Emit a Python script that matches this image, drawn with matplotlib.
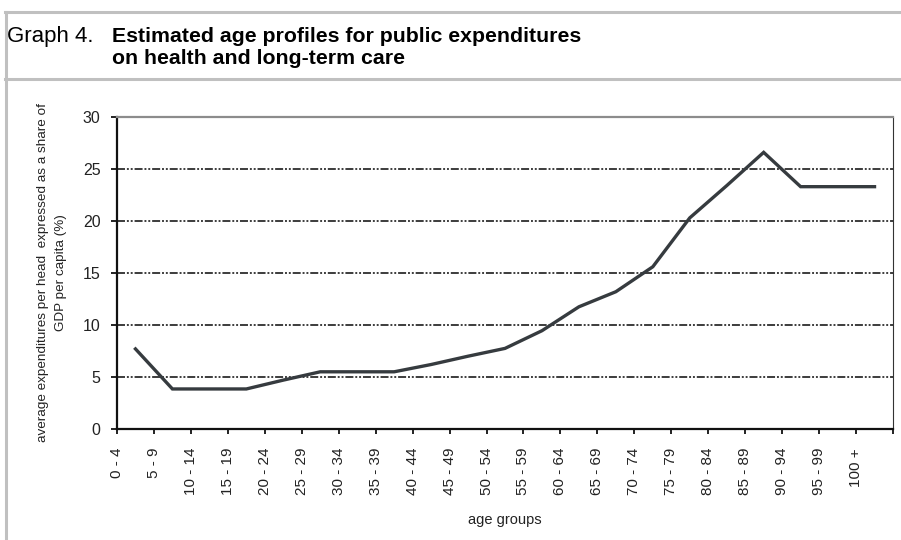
import numpy as np
import matplotlib
matplotlib.use('Agg')
import matplotlib.pyplot as plt
from matplotlib.lines import Line2D

plt.rcParams['font.family'] = ['Liberation Sans', 'DejaVu Sans']

# Step 1: data
age_groups = ['0 - 4', '5 - 9', '10 - 14', '15 - 19', '20 - 24', '25 - 29', '30 - 34',
              '35 - 39', '40 - 44', '45 - 49', '50 - 54', '55 - 59', '60 - 64', '65 - 69',
              '70 - 74', '75 - 79', '80 - 84', '85 - 89', '90 - 94', '95 - 99', '100 +']
expenditure_share = [7.7, 3.85, 3.85, 3.85, 4.7, 5.5, 5.5, 5.5, 6.2, 7.0, 7.75,
                     9.45, 11.75, 13.2, 15.6, 20.3, 23.4, 26.6, 23.3, 23.3, 23.3]
y_ticks = [0, 5, 10, 15, 20, 25, 30]

# Step 2: figure and axes
fig = plt.figure(figsize=(9.01, 5.40), dpi=100)
ax = fig.add_axes([117 / 901, 1 - 429 / 540, 776 / 901, 312 / 540])

x = np.arange(len(age_groups))
ax.plot(x, expenditure_share, color='#363b3f', lw=2.4, solid_joinstyle='miter', zorder=3)

ax.set_xlim(-0.5, len(age_groups) - 0.5)
ax.set_ylim(y_ticks[0], y_ticks[-1])

# gridlines only between bottom and top (dash-dot-dot look)
ax.hlines(y_ticks[1:-1], -0.5, len(age_groups) - 0.5, colors='#111111', lw=1.15,
          linestyles=[(0, (5, 1.2, 1.2, 1.2, 1.2, 1.2))], zorder=1)

# Step 3: axes styling
ax.spines['left'].set_linewidth(1.6)
ax.spines['bottom'].set_linewidth(1.6)
ax.spines['left'].set_color('#111111')
ax.spines['bottom'].set_color('#111111')
ax.spines['top'].set_color('#8c8c8c')
ax.spines['top'].set_linewidth(1.6)
ax.spines['right'].set_color('#333333')
ax.spines['right'].set_linewidth(0.8)

ax.set_yticks(y_ticks)
ax.set_yticklabels([str(v) for v in y_ticks], fontsize=11.5, color='#222222')
ax.tick_params(axis='y', direction='out', length=4.3, width=1.3, pad=7.5, color='#111111')

ax.set_xticks(np.arange(-0.5, len(age_groups) + 0.5, 1))
ax.set_xticklabels(age_groups + [''], rotation=90, fontsize=11, color='#222222')
ax.tick_params(axis='x', direction='out', length=3.6, width=1.3, pad=10, color='#111111')

ax.set_ylabel('average expenditures per head  expressed as a share of\nGDP per capita (%)',
              fontsize=9.7, color='#222222', linespacing=1.65)
ax.yaxis.set_label_coords(-0.064, 0.5)
ax.set_xlabel('age groups', fontsize=10.5, color='#222222')
ax.xaxis.set_label_coords(0.5, -0.27)

# Step 4: title block and frame lines
fig.text(7 / 901, 1 - 42 / 540, 'Graph 4.', fontsize=16, va='baseline', ha='left')
fig.text(112 / 901, 1 - 42 / 540, 'Estimated age profiles for public expenditures',
         fontsize=15.3, fontweight='bold', va='baseline', ha='left')
fig.text(112 / 901, 1 - 64 / 540, 'on health and long-term care',
         fontsize=15.3, fontweight='bold', va='baseline', ha='left')

frame = '#c0c0c0'
fig.add_artist(Line2D([5 / 901, 1], [1 - 12 / 540, 1 - 12 / 540], color=frame, lw=2.2))
fig.add_artist(Line2D([5 / 901, 1], [1 - 79 / 540, 1 - 79 / 540], color=frame, lw=2.2))
fig.add_artist(Line2D([6 / 901, 6 / 901], [0, 1 - 12 / 540], color=frame, lw=2.2))

fig.savefig('out.png', dpi=100)
